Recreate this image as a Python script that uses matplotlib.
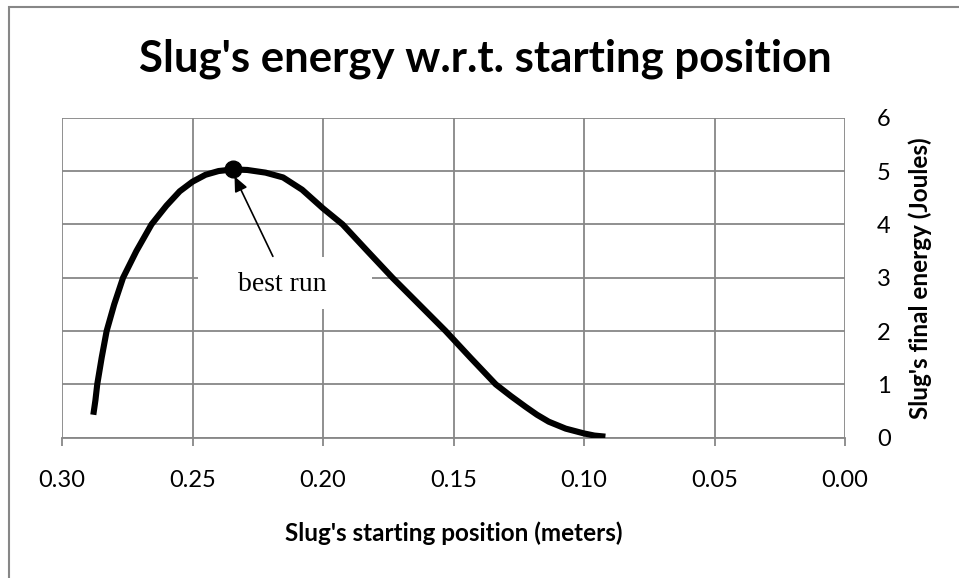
import matplotlib.pyplot as plt
from matplotlib.patches import Rectangle

# values
position = [0.2880, 0.2872, 0.2865, 0.2848, 0.2829, 0.2800, 0.2766, 0.2715, 0.2657,
            0.2600, 0.2549, 0.2500, 0.2450, 0.2400, 0.2345, 0.2290, 0.2220, 0.2153,
            0.2080, 0.2000, 0.1925, 0.1830, 0.1734, 0.1632, 0.1530, 0.1435, 0.1338,
            0.1280, 0.1224, 0.1180, 0.1135, 0.1070, 0.1000, 0.0960, 0.0918]
energy = [0.43, 0.70, 1.00, 1.50, 2.00, 2.50, 3.00, 3.50, 4.00,
          4.35, 4.62, 4.80, 4.93, 5.00, 5.03, 5.02, 4.97, 4.88,
          4.65, 4.30, 4.00, 3.50, 3.00, 2.50, 2.00, 1.50, 1.00,
          0.78, 0.58, 0.43, 0.30, 0.17, 0.08, 0.04, 0.02]
best_x, best_y = 0.2345, 5.03

x_ticks = [0.30, 0.25, 0.20, 0.15, 0.10, 0.05, 0.00]
y_ticks = [0, 1, 2, 3, 4, 5, 6]

plt.rcParams['font.family'] = ['Lato', 'DejaVu Sans']
grey = '#878787'

fig = plt.figure(figsize=(9.59, 5.78), dpi=100)
fig.patches.append(Rectangle((8.5 / 959, -0.05), 1.2, 1.05 - 7 / 578, transform=fig.transFigure,
                             fill=False, edgecolor=grey, linewidth=1.5))

ax = fig.add_axes([62 / 959, 1 - 437.7 / 578, (845 - 62) / 959, 320 / 578])
ax.plot(position, energy, color='black', linewidth=4.4, solid_joinstyle='round',
        solid_capstyle='butt', zorder=3)
ax.plot([best_x], [best_y], 'o', color='black', markersize=12, zorder=4)

ax.set_xlim(0.30, 0.00)
ax.set_ylim(0, 6)
ax.set_xticks(x_ticks)
ax.set_xticklabels(['%.2f' % v for v in x_ticks])
ax.set_yticks(y_ticks)
ax.yaxis.tick_right()
ax.yaxis.set_label_position('right')
ax.grid(True, color=grey, linewidth=1.3)
ax.set_axisbelow(True)
for s in ['top', 'left', 'right']:
    ax.spines[s].set_visible(False)
ax.spines['bottom'].set_color(grey)
ax.spines['bottom'].set_linewidth(1.3)
ax.tick_params(axis='x', length=6, color=grey, width=1.3, labelsize=17, pad=17)
ax.tick_params(axis='y', length=0, labelsize=17, pad=23)

ax.set_xlabel("Slug's starting position (meters)", fontsize=17.5, fontweight='bold', labelpad=22)
ax.set_ylabel("Slug's final energy (Joules)", fontsize=17.5, fontweight='bold', labelpad=13)
fig.text(485 / 959, 1 - 59 / 578, "Slug's energy w.r.t. starting position", ha='center', va='center',
         fontsize=31.5, fontweight='bold')

# white box behind the annotation, cutting the grid
ax.add_patch(Rectangle((0.1735, 0.402), 0.222, 0.163, transform=ax.transAxes,
                       facecolor='white', edgecolor='none', zorder=2))
ax.text(0.2154, 2.88, 'best run', ha='center', va='center', fontsize=20,
        family='Liberation Serif', zorder=5)
ax.annotate('', xy=(0.2339, 4.90), xytext=(0.2192, 3.40),
            arrowprops=dict(arrowstyle='-|>,head_length=0.9,head_width=0.4', color='black',
                            linewidth=1.2, shrinkA=0, shrinkB=0), zorder=5)

fig.savefig('out.png', dpi=100)
